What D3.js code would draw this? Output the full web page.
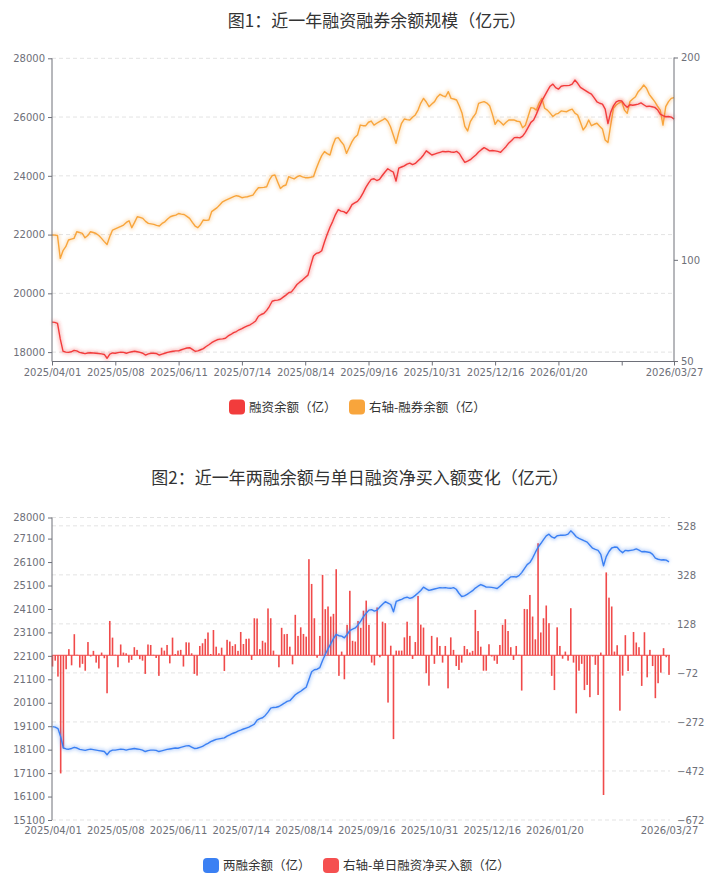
<!DOCTYPE html>
<html>
<head>
<meta charset="utf-8">
<script src="https://cdn.jsdelivr.net/npm/d3@7/dist/d3.min.js"></script>
<style>
  body { margin: 0; background: #fff; }
  svg text { font-family: "DejaVu Sans", sans-serif; }
  .title { font-family: "Noto Sans CJK SC", sans-serif !important; font-size: 17px; fill: #333; }
  .legend text { font-family: "Noto Sans CJK SC", sans-serif !important; font-size: 12.5px; fill: #333; }
  .axis text { fill: #6e7079; font-size: 10px; }
  .axis path, .axis line { stroke: #6e7079; }
  .grid line { stroke: #e3e3e3; stroke-dasharray: 4,3; }
</style>
</head>
<body>
<svg id="chart" width="719" height="888"></svg>
<script>
// x axis labels: category index -> date text
var tickIndex = [0, 23, 46, 69, 92, 115, 138, 161, 184, 207, 226];
var tickLabels = ['2025/04/01', '2025/05/08', '2025/06/11', '2025/07/14', '2025/08/14',
  '2025/09/16', '2025/10/31', '2025/12/16', '2026/01/20', '', '2026/03/27'];

// fig1 axes
var fig1LeftTicks = [18000, 20000, 22000, 24000, 26000, 28000];
var fig1RightTicks = [50, 100, 200];
// fig2 axes
var fig2LeftTicks = [15100, 16100, 17100, 18100, 19100, 20100, 21100, 22100, 23100, 24100, 25100, 26100, 27100, 28000];
var fig2RightTicks = [-672, -472, -272, -72, 128, 328, 528];

// 融资余额（亿）
var financeBalance = [19020, 19010, 18980, 18450, 18030, 18000, 17990, 18010, 18060, 18040,
  17990, 17970, 17950, 17970, 17980, 17970, 17960, 17950, 17940, 17920,
  17790, 17930, 17970, 17960, 17980, 18000, 17990, 17960, 17990, 18010,
  18030, 18010, 17990, 17960, 17900, 17940, 17960, 17960, 17950, 17900,
  17930, 17960, 17990, 18010, 18030, 18040, 18040, 18080, 18110, 18140,
  18150, 18090, 18030, 18040, 18080, 18120, 18190, 18250, 18320, 18370,
  18420, 18440, 18450, 18470, 18550, 18600, 18660, 18700, 18760, 18800,
  18850, 18890, 18930, 18990, 19060, 19220, 19280, 19320, 19420, 19560,
  19730, 19760, 19770, 19800, 19870, 19940, 20020, 20050, 20170, 20300,
  20380, 20450, 20540, 20620, 20950, 21270, 21360, 21380, 21450, 21750,
  22010, 22250, 22450, 22680, 22850, 22800, 22780, 22720, 22850, 23020,
  23080, 23130, 23250, 23410, 23600, 23750, 23880, 23900, 23840, 23880,
  24010, 24130, 24240, 24180, 24130, 23820, 24260, 24300, 24340, 24400,
  24430, 24380, 24420, 24510, 24600, 24710, 24850, 24780, 24710, 24740,
  24770, 24800, 24830, 24820, 24830, 24810, 24800, 24830, 24760, 24600,
  24460, 24500, 24550, 24630, 24710, 24810, 24890, 24960, 24910, 24850,
  24860, 24850, 24830, 24800, 24900, 25000, 25120, 25200, 25300, 25310,
  25290, 25350, 25480, 25650, 25820, 25900, 26100, 26330, 26550, 26720,
  26890, 27050, 27120, 27000, 26950, 27050, 27070, 27070, 27080, 27120,
  27260, 27150, 27010, 26950, 26890, 26830, 26780, 26650, 26520, 26470,
  26440, 26270, 25780, 26160, 26380, 26520, 26560, 26550, 26420, 26330,
  26420, 26400, 26420, 26440, 26480, 26420, 26360, 26370, 26350, 26330,
  26250, 26100, 26050, 26010, 26020, 26000, 25930];

// 右轴-融券余额（亿）
var shortBalance = [112.3, 112.2, 112.0, 100.7, 104.5, 106.5, 109.8, 110.2, 110.6, 113.9,
  113.5, 113.1, 110.9, 112.0, 113.9, 113.5, 113.0, 112.0, 110.6, 109.0,
  107.6, 111.5, 114.7, 115.3, 115.9, 116.5, 117.2, 118.5, 119.3, 115.9,
  118.5, 121.3, 121.0, 120.5, 119.0, 118.0, 117.8, 117.5, 117.0, 116.7,
  118.0, 118.8, 120.2, 121.3, 121.8, 122.1, 122.9, 122.6, 122.4, 121.5,
  120.5, 118.5, 116.7, 115.9, 117.5, 119.7, 119.5, 119.7, 123.8, 124.8,
  125.8, 127.2, 128.7, 129.4, 130.0, 130.6, 131.2, 131.7, 131.4, 130.7,
  131.0, 131.2, 131.6, 132.0, 134.0, 135.6, 135.7, 135.8, 136.1, 139.5,
  141.6, 141.9, 138.5, 135.3, 136.5, 137.0, 141.1, 140.5, 140.0, 141.0,
  141.6, 141.0, 140.6, 140.6, 140.8, 141.1, 145.0, 148.5, 151.5, 153.5,
  152.5, 151.8, 156.5, 160.0, 160.4, 158.5, 156.8, 152.6, 155.5, 158.4,
  160.5, 161.7, 166.6, 166.3, 166.3, 168.0, 168.6, 166.6, 167.5, 168.3,
  169.0, 169.9, 168.5, 165.8, 161.7, 157.6, 163.0, 167.5, 169.6, 169.3,
  169.1, 170.5, 171.6, 174.0, 177.5, 179.8, 178.0, 175.7, 177.0, 178.2,
  180.5, 181.8, 181.0, 180.6, 183.1, 179.8, 179.5, 179.0, 176.0, 172.4,
  166.0, 163.7, 168.3, 170.5, 172.4, 177.3, 177.8, 178.2, 177.5, 176.2,
  172.0, 167.0, 169.1, 168.0, 166.6, 168.0, 169.1, 169.1, 169.1, 168.5,
  168.3, 165.3, 166.5, 170.8, 175.2, 175.0, 174.0, 177.5, 179.8, 174.9,
  174.0, 172.5, 170.8, 172.0, 172.4, 173.6, 173.4, 173.2, 174.0, 174.5,
  172.5, 171.6, 168.0, 164.2, 166.0, 169.1, 166.3, 167.0, 167.5, 166.0,
  164.7, 159.2, 158.0, 166.6, 174.9, 176.5, 177.5, 178.2, 174.0, 172.4,
  178.2, 179.5, 180.6, 183.1, 184.5, 186.4, 184.8, 181.8, 180.0, 178.2,
  176.0, 174.0, 166.6, 175.7, 178.2, 179.8, 180.2];

// 两融余额（亿）
var marginTotal = [19080, 19060, 19000, 18650, 18170, 18130, 18120, 18150, 18200, 18170,
  18110, 18090, 18070, 18100, 18120, 18100, 18080, 18060, 18040, 18020,
  17880, 18030, 18080, 18080, 18100, 18120, 18110, 18080, 18110, 18130,
  18150, 18130, 18110, 18080, 18020, 18060, 18080, 18080, 18070, 18020,
  18050, 18080, 18110, 18130, 18150, 18170, 18160, 18200, 18230, 18260,
  18270, 18210, 18150, 18160, 18200, 18240, 18310, 18370, 18440, 18490,
  18540, 18560, 18580, 18600, 18680, 18730, 18790, 18830, 18890, 18930,
  18980, 19020, 19060, 19120, 19190, 19360, 19420, 19460, 19560, 19700,
  19870, 19900, 19910, 19940, 20010, 20080, 20160, 20190, 20310, 20440,
  20520, 20590, 20680, 20760, 21090, 21420, 21510, 21530, 21600, 21900,
  22160, 22400, 22610, 22840, 23010, 22960, 22940, 22870, 23010, 23180,
  23240, 23290, 23420, 23580, 23770, 23920, 24050, 24070, 24010, 24050,
  24180, 24300, 24410, 24350, 24290, 23980, 24420, 24470, 24510, 24570,
  24600, 24550, 24590, 24680, 24780, 24890, 25030, 24960, 24890, 24920,
  24950, 24980, 25010, 25000, 25010, 24990, 24980, 25010, 24940, 24770,
  24630, 24660, 24720, 24800, 24880, 24990, 25070, 25140, 25090, 25030,
  25030, 25020, 25000, 24970, 25070, 25170, 25290, 25370, 25470, 25480,
  25460, 25520, 25650, 25820, 25990, 26080, 26270, 26510, 26730, 26890,
  27060, 27220, 27290, 27170, 27120, 27220, 27240, 27240, 27250, 27290,
  27430, 27320, 27180, 27110, 27060, 27000, 26950, 26820, 26690, 26640,
  26600, 26430, 25940, 26330, 26550, 26700, 26740, 26730, 26590, 26500,
  26600, 26580, 26600, 26620, 26660, 26610, 26540, 26550, 26530, 26510,
  26430, 26270, 26220, 26190, 26200, 26180, 26110];

// 右轴-单日融资净买入额（亿）
var netBuy = [-46, -22, -87, -482, -380, -57, 25, -41, 86, 2,
  -50, -35, -63, 54, -5, 18, -30, -54, 11, -12,
  -155, 140, 72, 2, -49, 44, 11, 8, -30, -19,
  33, 22, -16, -22, -76, 44, 42, 2, -11, -84,
  31, 19, 42, -33, 72, 5, 19, 22, -46, 53,
  52, 8, -76, -83, 38, 49, 67, 93, 5, 103,
  35, 8, 31, -64, 63, 56, 38, 45, 18, 95,
  46, 67, 68, -19, 151, 150, 25, 59, 52, 191,
  151, 19, 2, -49, 112, 86, 87, 35, -37, 165,
  79, 114, 87, 76, 392, 291, 151, -10, 79, 328,
  188, 199, 158, 169, 351, -84, 15, -98, 124, 263,
  59, 56, 140, 112, 182, 223, 124, -30, -41, 195,
  -8, 137, 131, -193, 39, -342, 19, 19, 19, 73,
  137, 79, -15, 54, 242, 125, 113, -73, -124, 79,
  -35, 73, 38, -30, 38, -135, 73, 22, -44, -60,
  -30, 38, 25, 11, 18, 185, 99, 35, -63, -63,
  45, -5, -22, -35, 42, 124, 147, 99, 33, -19,
  38, 2, -144, 189, 188, 246, 158, 65, 457, 93,
  151, 203, 131, -84, -142, 114, 38, -14, 15, -22,
  192, -30, -237, -63, -35, -142, -121, -171, -5, -39,
  -162, 11, -570, 338, 235, 199, 15, 41, -226, -83,
  82, -64, 2, 95, 52, 33, -125, 94, -90, 22,
  -44, -175, -114, -71, 29, -8, -80];

var svg = d3.select('#chart');
var idx = d3.range(financeBalance.length);

function glowLine(g, data, x, y, color) {
  var line = d3.line().x(function(d, i){ return x(i); }).y(function(d){ return y(d); });
  g.append('path').datum(data)
    .attr('d', line).attr('fill', 'none')
    .attr('stroke', color).attr('stroke-width', 5).attr('stroke-opacity', 0.25)
    .attr('stroke-linejoin', 'round')
    .attr('filter', 'url(#blur)');
  g.append('path').datum(data)
    .attr('d', line).attr('fill', 'none')
    .attr('stroke', color).attr('stroke-width', 1.4)
    .attr('stroke-linejoin', 'round');
}

function drawLegend(cx, cy, items) {
  var lg = svg.append('g').attr('class', 'legend');
  var x0 = cx;
  items.forEach(function(it){
    lg.append('rect').attr('x', x0).attr('y', cy - 7.5).attr('width', 16).attr('height', 15)
      .attr('rx', 4).attr('fill', it.color);
    lg.append('text').attr('x', x0 + 20).attr('y', cy).attr('dy', '0.36em').text(it.name);
    x0 += it.w;
  });
}

svg.append('defs').append('filter').attr('id', 'blur')
  .attr('x', '-5%').attr('y', '-20%').attr('width', '110%').attr('height', '140%')
  .append('feGaussianBlur').attr('stdDeviation', 1.8);

// ---------- 图1 ----------
var x1 = d3.scalePoint().domain(idx).range([52, 674]);
var y1L = d3.scaleLinear().domain([17680, 28000]).range([361.5, 58.3]);
var y1R = d3.scaleLinear().domain([50, 200]).range([361, 57.5]);

svg.append('text').attr('class', 'title').attr('x', 377).attr('y', 21)
  .attr('text-anchor', 'middle').attr('dy', '0.35em')
  .text('图1：近一年融资融券余额规模（亿元）');

svg.append('g').attr('class', 'grid').selectAll('line').data(fig1LeftTicks).enter()
  .append('line').attr('x1', 52).attr('x2', 674)
  .attr('y1', function(d){ return y1L(d); }).attr('y2', function(d){ return y1L(d); });

var g1 = svg.append('g');
glowLine(g1, shortBalance, x1, y1R, '#f8a53c');
glowLine(g1, financeBalance, x1, y1L, '#f23c3c');

svg.append('g').attr('class', 'axis').attr('transform', 'translate(52,0)')
  .call(d3.axisLeft(y1L).tickValues(fig1LeftTicks).tickSize(4).tickPadding(3).tickFormat(d3.format('d')))
  .call(function(g){ g.select('.domain').attr('d', 'M0,' + y1L(28000) + 'V361.5'); });

svg.append('g').attr('class', 'axis').attr('transform', 'translate(674,0)')
  .call(d3.axisRight(y1R).tickValues(fig1RightTicks).tickSize(4).tickPadding(3))
  .call(function(g){ g.select('.domain').attr('d', 'M0,57.5V361'); });

svg.append('g').attr('class', 'axis').attr('transform', 'translate(0,361.5)')
  .call(d3.axisBottom(x1).tickValues(tickIndex).tickSize(4).tickPadding(3)
    .tickFormat(function(d){ return tickLabels[tickIndex.indexOf(d)]; }))
  .call(function(g){ g.select('.domain').attr('d', 'M52,0H674'); });

drawLegend(229, 407, [
  { name: '融资余额（亿）', color: '#f23c3c', w: 120 },
  { name: '右轴-融券余额（亿）', color: '#f8a53c', w: 150 }
]);

// ---------- 图2 ----------
var x2 = d3.scalePoint().domain(idx).range([52.5, 669]);
var y2L = d3.scaleLinear().domain([15100, 28000]).range([820, 517.5]);
var y2R = d3.scaleLinear().domain([-672, 562]).range([820, 517.5]);

svg.append('text').attr('class', 'title').attr('x', 360).attr('y', 478)
  .attr('text-anchor', 'middle').attr('dy', '0.35em')
  .text('图2：近一年两融余额与单日融资净买入额变化（亿元）');

svg.append('g').attr('class', 'grid').selectAll('line').data(fig2RightTicks.concat([562])).enter()
  .append('line').attr('x1', 52).attr('x2', 670)
  .attr('y1', function(d){ return y2R(d); }).attr('y2', function(d){ return y2R(d); });

svg.append('g').selectAll('rect').data(netBuy).enter().append('rect')
  .attr('x', function(d, i){ return x2(i) - 0.8; })
  .attr('width', 1.6)
  .attr('y', function(d){ return y2R(Math.max(0, d)); })
  .attr('height', function(d){ return Math.abs(y2R(d) - y2R(0)); })
  .attr('fill', '#f04a4a');

svg.append('line').attr('x1', 52).attr('x2', 670)
  .attr('y1', y2R(0)).attr('y2', y2R(0)).attr('stroke', '#f04a4a').attr('stroke-width', 1);

var g2 = svg.append('g');
glowLine(g2, marginTotal, x2, y2L, '#3b80f3');

svg.append('g').attr('class', 'axis').attr('transform', 'translate(52,0)')
  .call(d3.axisLeft(y2L).tickValues(fig2LeftTicks).tickSize(4).tickPadding(3).tickFormat(d3.format('d')))
  .call(function(g){ g.select('.domain').attr('d', 'M0,517.5V820'); });

svg.append('g').attr('class', 'axis').attr('transform', 'translate(670,0)')
  .call(d3.axisRight(y2R).tickValues(fig2RightTicks).tickSize(0).tickPadding(7))
  .call(function(g){ g.select('.domain').remove(); });

svg.append('g').attr('class', 'axis').attr('transform', 'translate(0,820)')
  .call(d3.axisBottom(x2).tickValues(tickIndex).tickSize(0).tickPadding(7)
    .tickFormat(function(d){ return tickLabels[tickIndex.indexOf(d)]; }))
  .call(function(g){ g.select('.domain').remove(); });

drawLegend(203, 865.5, [
  { name: '两融余额（亿）', color: '#3b80f3', w: 120 },
  { name: '右轴-单日融资净买入额（亿）', color: '#f55050', w: 200 }
]);
</script>
</body>
</html>
